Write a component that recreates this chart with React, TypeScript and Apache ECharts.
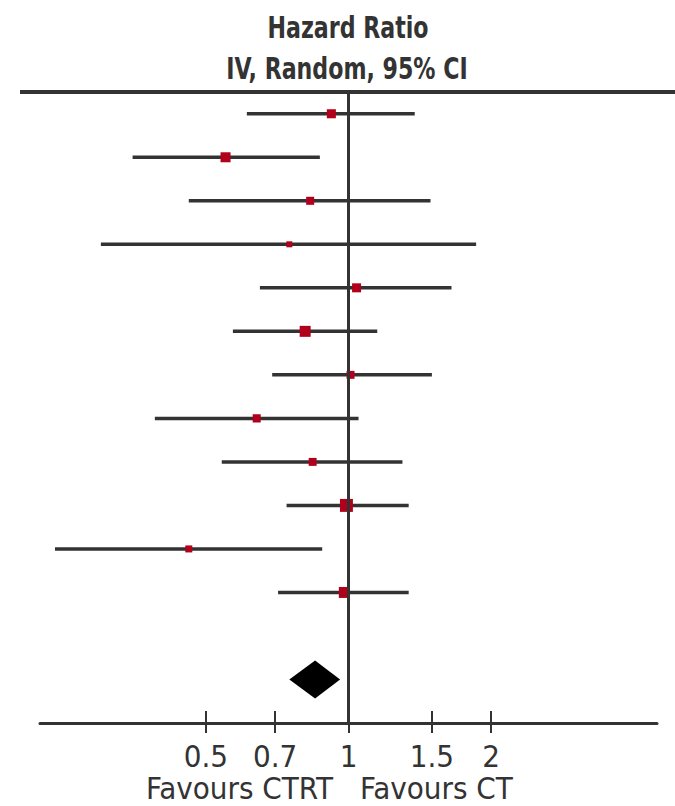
import React, { useEffect, useRef } from "react";
import * as echarts from "echarts";

// Study-level hazard ratios (IV, Random, 95% CI), top to bottom
const hazardRatio = [0.92, 0.55, 0.83, 0.75, 1.04, 0.81, 1.01, 0.64, 0.84, 0.99, 0.46, 0.98];
const ciLower = [0.61, 0.35, 0.46, 0.30, 0.65, 0.57, 0.69, 0.39, 0.54, 0.74, 0.24, 0.71];
const ciUpper = [1.38, 0.87, 1.49, 1.86, 1.65, 1.15, 1.50, 1.05, 1.30, 1.34, 0.88, 1.34];
const weightPct = [8.0, 9.8, 6.3, 3.5, 7.9, 11.8, 6.2, 6.3, 6.2, 16.4, 4.8, 11.8];

// Pooled estimate
const pooledHR = [0.85];
const pooledLower = [0.75];
const pooledUpper = [0.96];

const tickValues = [0.5, 0.7, 1, 1.5, 2];
const tickLabels = ["0.5", "0.7", "1", "1.5", "2"];

const headerLines = ["Hazard Ratio", "IV, Random, 95% CI"];
const favourLabels = ["Favours CTRT", "Favours CT"];

const FONT = "'Liberation Sans Narrow', 'Arial Narrow', 'DejaVu Sans Condensed', sans-serif";
const INK = "#333333";
const RED = "#b1001c";

export default function App() {
  const ref = useRef<HTMLDivElement>(null);
  useEffect(() => {
    if (!ref.current) return;
    const chart = echarts.init(ref.current, undefined, { renderer: "svg" });
    const ln = Math.log;
    const studyData = hazardRatio.map((h, i) => [ln(ciLower[i]), ln(ciUpper[i]), ln(h), i, weightPct[i]]);
    const pooledRow = hazardRatio.length + 1;
    const pooledData = pooledHR.map((h, i) => [ln(pooledLower[i]), ln(pooledUpper[i]), ln(h), pooledRow]);
    const tickLn = tickValues.map(ln);
    const labelFor = (v: number) => {
      let best = 0;
      tickLn.forEach((t, i) => {
        if (Math.abs(t - v) < Math.abs(tickLn[best] - v)) best = i;
      });
      return tickLabels[best];
    };

    chart.setOption({
      animation: false,
      backgroundColor: "#ffffff",
      grid: { left: 40, right: 18, top: 92, bottom: 83 },
      xAxis: [
        {
          type: "value",
          min: -1.5,
          max: 1.5,
          position: "bottom",
          splitLine: { show: false },
          axisLine: { show: true, onZero: false, lineStyle: { color: INK, width: 3 } },
          axisTick: { show: true, customValues: tickLn, length: 10, lineStyle: { color: INK, width: 2 } },
          axisLabel: {
            show: true,
            customValues: tickLn,
            formatter: (v: number) => labelFor(v),
            fontFamily: FONT,
            fontSize: 31,
            color: INK,
            margin: 17,
          },
        },
        {
          type: "value",
          min: -1.5,
          max: 1.5,
          position: "bottom",
          splitLine: { show: false },
          axisLine: { show: false, onZero: false },
          axisTick: { show: true, inside: true, customValues: tickLn, length: 12, lineStyle: { color: INK, width: 2 } },
          axisLabel: { show: false },
        },
      ],
      yAxis: {
        type: "value",
        inverse: true,
        min: -0.5,
        max: 14,
        show: false,
      },
      graphic: [
        {
          type: "line",
          shape: { x1: 20, y1: 92, x2: 675, y2: 92 },
          style: { stroke: INK, lineWidth: 4 },
        },
        {
          type: "text",
          x: 348,
          y: 28,
          scaleX: 0.82,
          style: { text: headerLines[0], fontFamily: FONT, fontSize: 30, fontWeight: "bold", fill: INK, textAlign: "center", textVerticalAlign: "middle" },
        },
        {
          type: "text",
          x: 347,
          y: 69,
          scaleX: 0.82,
          style: { text: headerLines[1], fontFamily: FONT, fontSize: 30, fontWeight: "bold", fill: INK, textAlign: "center", textVerticalAlign: "middle" },
        },
        {
          type: "text",
          x: 333,
          y: 788,
          style: { text: favourLabels[0], fontFamily: FONT, fontSize: 31, fill: INK, textAlign: "right", textVerticalAlign: "middle" },
        },
        {
          type: "text",
          x: 360,
          y: 788,
          style: { text: favourLabels[1], fontFamily: FONT, fontSize: 31, fill: INK, textAlign: "left", textVerticalAlign: "middle" },
        },
      ],
      series: [
        {
          type: "line",
          data: [],
          z: 1,
          markLine: {
            silent: true,
            symbol: "none",
            label: { show: false },
            lineStyle: { color: INK, width: 3, type: "solid" },
            data: [{ xAxis: 0 }],
          },
        },
        {
          type: "custom",
          z: 3,
          encode: { x: [0, 1, 2], y: 3 },
          data: studyData,
          renderItem: (params: any, api: any) => {
            const lo = api.coord([api.value(0), api.value(3)]);
            const hi = api.coord([api.value(1), api.value(3)]);
            const c = api.coord([api.value(2), api.value(3)]);
            const s = 3.2 * Math.sqrt(api.value(4));
            return {
              type: "group",
              children: [
                { type: "line", shape: { x1: lo[0], y1: lo[1], x2: hi[0], y2: hi[1] }, style: { stroke: INK, lineWidth: 3.5 } },
                { type: "rect", shape: { x: c[0] - s / 2, y: c[1] - s / 2, width: s, height: s }, style: { fill: RED } },
              ],
            };
          },
        },
        {
          type: "custom",
          z: 3,
          encode: { x: [0, 1, 2], y: 3 },
          data: pooledData,
          renderItem: (params: any, api: any) => {
            const lo = api.coord([api.value(0), api.value(3)]);
            const hi = api.coord([api.value(1), api.value(3)]);
            const c = api.coord([api.value(2), api.value(3)]);
            const h = 19;
            return {
              type: "polygon",
              shape: { points: [[lo[0], lo[1]], [c[0], c[1] - h], [hi[0], hi[1]], [c[0], c[1] + h]] },
              style: { fill: "#000000" },
            };
          },
        },
      ],
    });
    return () => chart.dispose();
  }, []);
  return <div ref={ref} style={{ position: "absolute", left: 0, top: 0, width: 675, height: 806 }} />;
}
